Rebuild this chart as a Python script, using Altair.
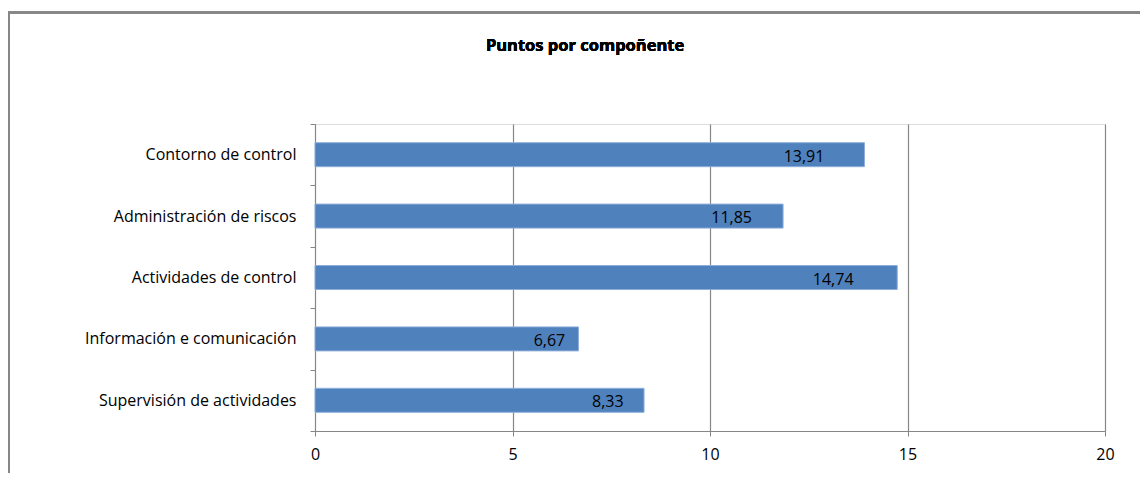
import altair as alt
import pandas as pd

categories = ["Contorno de control", "Administración de riscos", "Actividades de control",
              "Información e comunicación", "Supervisión de actividades"]
values = [13.91, 11.85, 14.74, 6.67, 8.33]
value_labels = ["13,91", "11,85", "14,74", "6,67", "8,33"]
x_ticks = [0, 5, 10, 15, 20]
title_text = "Puntos por compoñente"

df = pd.DataFrame({"cat": categories, "value": values, "label": value_labels})

FONT = "Open Sans"
GRAY = "#868686"
W, H = 790, 307

y_enc = alt.Y("cat:N", sort=categories, title=None,
              scale=alt.Scale(paddingInner=0, paddingOuter=0),
              axis=alt.Axis(tickBand="extent", domainColor=GRAY, tickColor=GRAY,
                            tickSize=5, labelPadding=14, labelFont=FONT,
                            labelFontSize=16, labelColor="#000000", labelLimit=400))
x_enc = alt.X("value:Q", title=None,
              scale=alt.Scale(domain=[0, 20], nice=False),
              axis=alt.Axis(values=x_ticks, grid=True, gridColor=GRAY, gridWidth=1.2,
                            domainColor=GRAY, tickColor=GRAY, tickSize=5,
                            labelPadding=10, labelFont=FONT, labelFontSize=16,
                            labelColor="#000000", labelFlush=False))

bars = alt.Chart(df).mark_bar(color="#4F81BD", stroke="#8EAEDA", strokeWidth=1,
                              height=24).encode(x=x_enc, y=y_enc)

labels = alt.Chart(df).transform_calculate(pos="datum.value * 0.89").mark_text(
    font=FONT, fontSize=16, color="#000000", baseline="middle", dy=2).encode(
    x=alt.X("pos:Q"), y=alt.Y("cat:N", sort=categories), text="label:N")

frame = alt.Chart(df).mark_rect(fill=None, stroke=GRAY, strokeWidth=2).encode(
    x=alt.value(-306.5), x2=alt.value(900), y=alt.value(-111.5), y2=alt.value(400))

title = alt.Chart(df).mark_text(font=FONT, fontSize=16.5, fontWeight="bold",
                                color="#000000").encode(
    x=alt.value(270), y=alt.value(-78), text=alt.value(title_text))

chart = alt.layer(frame, bars, labels, title).properties(
    width=W, height=H,
    autosize=alt.AutoSizeParams(type="none"),
    padding={"left": 307, "top": 116, "right": 35, "bottom": 42},
).configure_view(stroke=None).configure(background="#ffffff")

chart.save("out.html", embed_options={"renderer": "svg", "actions": False})
